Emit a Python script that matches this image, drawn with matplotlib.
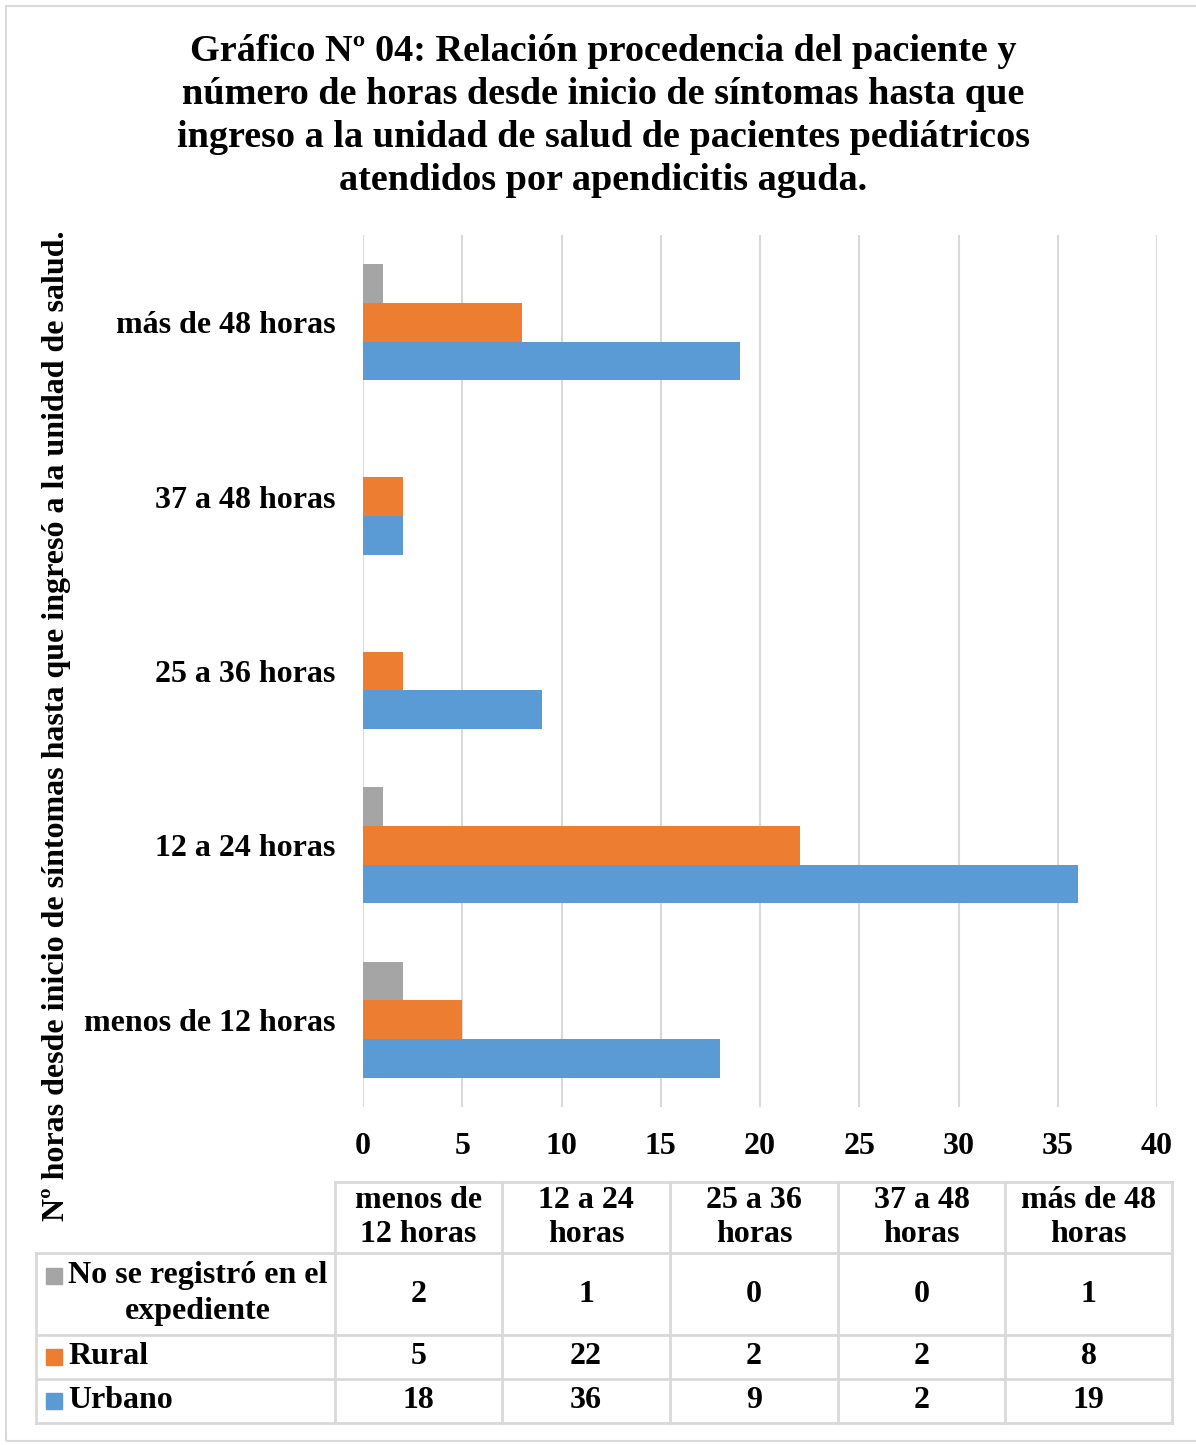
import numpy as np
import matplotlib.pyplot as plt
from matplotlib.patches import Rectangle

plt.rcParams['font.family'] = ['Liberation Serif', 'DejaVu Serif']
plt.rcParams['font.weight'] = 'bold'

# DATOS
categorias = ['menos de 12 horas', '12 a 24 horas', '25 a 36 horas',
              '37 a 48 horas', 'más de 48 horas']
cat_tabla = ['menos de\n12 horas', '12 a 24\nhoras', '25 a 36\nhoras',
             '37 a 48\nhoras', 'más de 48\nhoras']
no_registro = [2, 1, 0, 0, 1]
rural = [5, 22, 2, 2, 8]
urbano = [18, 36, 9, 2, 19]
series = ['No se registró en el\nexpediente', 'Rural', 'Urbano']
colores = ['#A5A5A5', '#ED7D31', '#5B9BD5']

fs = 23  # tamaño de letra general

W, H = 1196, 1445
fig = plt.figure(figsize=(W / 100, H / 100), dpi=100)

# marco
fig.patches.append(Rectangle((6 / W, 4 / H), 1.2, 1 - 10 / H, transform=fig.transFigure,
                             fill=False, edgecolor='#d9d9d9', lw=1.5))

fig.text(603 / W, 1 - 116 / H,
         'Gráfico Nº 04: Relación procedencia del paciente y\n'
         'número de horas desde inicio de síntomas hasta que\n'
         'ingreso a la unidad de salud de pacientes pediátricos\n'
         'atendidos por apendicitis aguda.',
         ha='center', va='center', fontsize=27.5, fontweight='bold', linespacing=1.3)

# grafico de barras
ax = fig.add_axes([363 / W, 1 - 1107 / H, (1157 - 363) / W, (1107 - 235) / H])
y = np.arange(len(categorias))
h = 0.222
ax.barh(y + h, no_registro, height=h, color=colores[0], zorder=3)
ax.barh(y, rural, height=h, color=colores[1], zorder=3)
ax.barh(y - h, urbano, height=h, color=colores[2], zorder=3)
ax.set_xlim(0, 40)
ax.set_ylim(-0.5, len(categorias) - 0.5)
ax.set_xticks(np.arange(0, 41, 5))
ax.set_yticks(y)
ax.set_yticklabels(categorias)
ax.grid(axis='x', color='#d9d9d9', lw=1.5, zorder=0)
for s in ax.spines.values():
    s.set_visible(False)
ax.tick_params(axis='both', length=0, labelsize=fs)
ax.tick_params(axis='x', pad=18)
ax.tick_params(axis='y', pad=20)
for t in ax.get_xticklabels() + ax.get_yticklabels():
    t.set_fontweight('bold')

fig.text(57 / W, 1 - 726 / H,
         'Nº horas desde inicio de síntomas hasta que ingresó a la unidad de salud.',
         rotation=90, ha='center', va='center', fontsize=fs, fontweight='bold')

# tabla de datos
at = fig.add_axes([0, 0, 1, 1])
at.set_xlim(0, W)
at.set_ylim(H, 0)
at.axis('off')
xs = [36, 335, 502, 670, 838, 1005, 1172]
ys = [1182, 1253, 1335, 1379, 1423]
lc = '#d9d9d9'
at.plot([xs[1], xs[-1]], [ys[0], ys[0]], color=lc, lw=2)
for yy in ys[1:]:
    at.plot([xs[0], xs[-1]], [yy, yy], color=lc, lw=2)
at.plot([xs[0], xs[0]], [ys[1], ys[-1]], color=lc, lw=2)
for xx in xs[1:]:
    at.plot([xx, xx], [ys[0], ys[-1]], color=lc, lw=2)

for j, c in enumerate(cat_tabla):
    at.text((xs[j + 1] + xs[j + 2]) / 2, (ys[0] + ys[1]) / 2, c, ha='center', va='center',
            fontsize=fs, fontweight='bold', linespacing=1.25)

valores = [no_registro, rural, urbano]
for i, (nombre, vals) in enumerate(zip(series, valores)):
    yc = (ys[i + 1] + ys[i + 2]) / 2
    if i == 0:
        at.add_patch(Rectangle((46, 1268), 16, 16, color=colores[i]))
        at.text(68, 1276, 'No se registró en el', ha='left', va='center',
                fontsize=fs, fontweight='bold')
        at.text(198, 1312, 'expediente', ha='center', va='center',
                fontsize=fs, fontweight='bold')
    else:
        at.add_patch(Rectangle((46, yc - 8), 16, 16, color=colores[i]))
        at.text(68, yc, nombre, ha='left', va='center', fontsize=fs, fontweight='bold')
    for j, v in enumerate(vals):
        at.text((xs[j + 1] + xs[j + 2]) / 2, yc, str(v), ha='center', va='center',
                fontsize=fs, fontweight='bold')

fig.savefig('out.png', dpi=100)
